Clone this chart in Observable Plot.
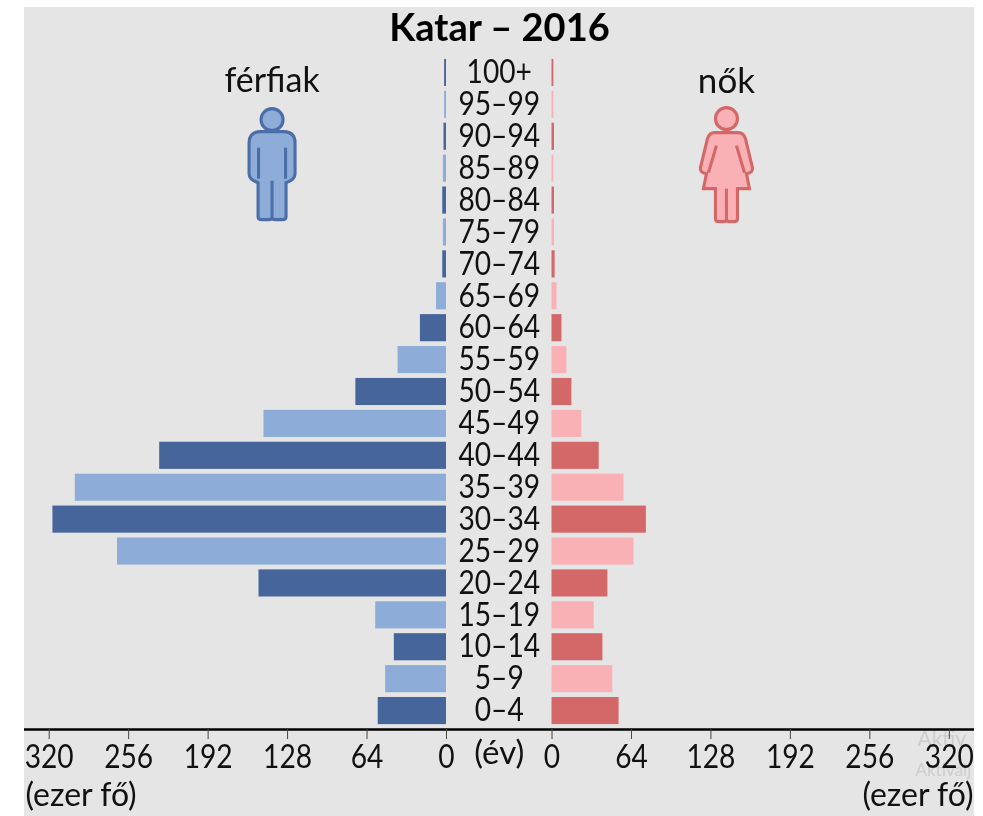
<!DOCTYPE html>
<html lang="hu">
<head>
<meta charset="utf-8">
<script src="https://cdn.jsdelivr.net/npm/d3@7"></script>
<script src="https://cdn.jsdelivr.net/npm/@observablehq/plot@0.6"></script>
<style>
html,body{margin:0;padding:0;background:#fff;overflow:hidden}
#chart{position:absolute;left:24px;top:7px}
</style>
</head>
<body>
<div id="chart"></div>
<script>
const ages = ["100+","95–99","90–94","85–89","80–84","75–79","70–74","65–69","60–64","55–59","50–54","45–49","40–44","35–39","30–34","25–29","20–24","15–19","10–14","5–9","0–4"];
const men = [1.5,1.5,2,2.5,3,2.5,3,8,21,39,73,147,231,299,317,265,151,57,42,49,55];
const women = [1.5,1.5,2,1.5,2,2,2.5,4,8,12,16,24,38,58,76,66,45,34,41,49,54];
const tickValues = [0,64,128,192,256,320];
const GAP = 42.5;          // half-width of the central age column, in axis units
const ICON = 140.5;        // where the icons stand, in axis units from zero
const font = "Lato, 'Noto Sans', sans-serif";
const DARK_M = "#46659a", LIGHT_M = "#8dadd8", DARK_F = "#d46767", LIGHT_F = "#fab1b6";

const rows = ages.map((age,i)=>({age,i,m:men[i],f:women[i]}));
const manSymbol = {draw(c){
  c.moveTo(11,-45); c.arc(0,-45,11,0,2*Math.PI);
  c.moveTo(-13,-33);
  c.quadraticCurveTo(-23,-32,-23,-22); c.lineTo(-23,9); c.quadraticCurveTo(-23,15,-14,18);
  c.lineTo(-14,52); c.quadraticCurveTo(-14,55,-10,55); c.lineTo(-3,55); c.quadraticCurveTo(0,55,0,52);
  c.quadraticCurveTo(0,55,3,55); c.lineTo(10,55); c.quadraticCurveTo(14,55,14,52); c.lineTo(14,18);
  c.quadraticCurveTo(23,15,23,9); c.lineTo(23,-22); c.quadraticCurveTo(23,-32,13,-33); c.closePath();
  c.moveTo(-13.5,-17); c.lineTo(-13.5,14);
  c.moveTo(13.5,-17); c.lineTo(13.5,14);
  c.moveTo(0,16); c.lineTo(0,52);
}};
const womanSymbol = {draw(c){
  c.moveTo(11,-46); c.arc(0,-46,11,0,2*Math.PI);
  c.moveTo(-12,-32);
  c.quadraticCurveTo(-17,-32,-19,-26); c.lineTo(-26,3); c.quadraticCurveTo(-27,8,-20,9);
  c.lineTo(-23,24); c.lineTo(-11,24); c.lineTo(-11,54); c.quadraticCurveTo(-11,57,-7,57); c.lineTo(-3,57); c.quadraticCurveTo(0,57,0,54);
  c.quadraticCurveTo(0,57,3,57); c.lineTo(7,57); c.quadraticCurveTo(11,57,11,54); c.lineTo(11,24); c.lineTo(23,24);
  c.lineTo(20,9); c.quadraticCurveTo(27,8,26,3); c.lineTo(19,-26); c.quadraticCurveTo(17,-32,12,-32); c.closePath();
  c.moveTo(-10,-19); c.lineTo(-18,8);
  c.moveTo(10,-19); c.lineTo(18,8);
  c.moveTo(0,24); c.lineTo(0,54);
}};

const chart = Plot.plot({
  width: 950, height: 809,
  marginLeft: 0, marginRight: 0, marginTop: 49, marginBottom: 87,
  style: {background:"#e5e5e5", overflow:"hidden", fontFamily:font, fontSize:"32px", maxWidth:"none", filter:"blur(0.5px)"},
  x: {domain:[-382.4,382.8]},
  y: {domain:ages, range:[49.5,719.5], paddingInner:0.15, paddingOuter:0.075, round:false, axis:null},
  marks: [
    Plot.barX(rows,{x1:-GAP,x2:d=>-GAP-d.m,y:"age",fill:d=>d.i%2?LIGHT_M:DARK_M}),
    Plot.barX(rows,{x1:GAP,x2:d=>GAP+d.f,y:"age",fill:d=>d.i%2?LIGHT_F:DARK_F}),
    Plot.text(rows,{x:0,y:"age",text:"age",fontSize:32,fill:"#111",fontFamily:font,className:"narrow"}),
    Plot.text(["Aktiv"],{frameAnchor:"bottom-right",lineAnchor:"middle",dy:10,dx:-57,fontSize:21,fontFamily:font,fill:"#cdcdcd",textAnchor:"start"}),
    Plot.text(["Aktiválj"],{frameAnchor:"bottom-right",lineAnchor:"middle",dy:41,dx:-59,fontSize:17,fontFamily:font,fill:"#cdcdcd",textAnchor:"start"}),
    Plot.frame({anchor:"bottom",stroke:"#000",strokeWidth:2.5}),
    Plot.axisX([...tickValues.map(v=>-GAP-v),...tickValues.map(v=>GAP+v)],{
      tickFormat:d=>String(Math.abs(d)-GAP),tickSize:10,tickPadding:6,stroke:"#444",
      fontSize:32,fontFamily:font,fill:"#111",label:null,fontVariant:"normal",className:"narrow"}),
    Plot.text(["(év)"],{x:0,frameAnchor:"bottom",lineAnchor:"middle",dy:24,fontSize:33,fontFamily:font,fill:"#111"}),
    Plot.text(["(ezer fő)"],{frameAnchor:"bottom-left",lineAnchor:"middle",dy:66,dx:1,fontSize:32,fontFamily:font,fill:"#111",textAnchor:"start"}),
    Plot.text(["(ezer fő)"],{frameAnchor:"bottom-right",lineAnchor:"middle",dy:66,dx:-1,fontSize:32,fontFamily:font,fill:"#111",textAnchor:"end"}),
    Plot.text(["Katar – 2016"],{frameAnchor:"top",dy:-28,lineAnchor:"middle",fontSize:38,fontWeight:700,fontFamily:font,fill:"#000"}),
    Plot.text(["férfiak"],{x:-GAP-ICON,y:()=>"100+",dy:8,fontSize:34,fontFamily:font,fill:"#111"}),
    Plot.text(["nők"],{x:GAP+ICON,y:()=>"100+",dy:9,fontSize:35,fontFamily:font,fill:"#111"}),
    Plot.dot(["m"],{x:-GAP-ICON,y:()=>"85–89",dy:-4,symbol:manSymbol,fill:LIGHT_M,stroke:"#4c6ea8",strokeWidth:3.1}),
    Plot.dot(["f"],{x:GAP+ICON,y:()=>"85–89",dy:-4,symbol:womanSymbol,fill:LIGHT_F,stroke:DARK_F,strokeWidth:3.1})
  ]
});
// Lato's figures are wider than the reference face: narrow the digit labels slightly around their own anchor.
chart.querySelectorAll(".narrow text").forEach(t => {
  const tr = t.getAttribute("transform") || "";
  t.setAttribute("transform", tr + " scale(0.88,1)");
});
document.getElementById("chart").append(chart);
</script>
</body>
</html>
